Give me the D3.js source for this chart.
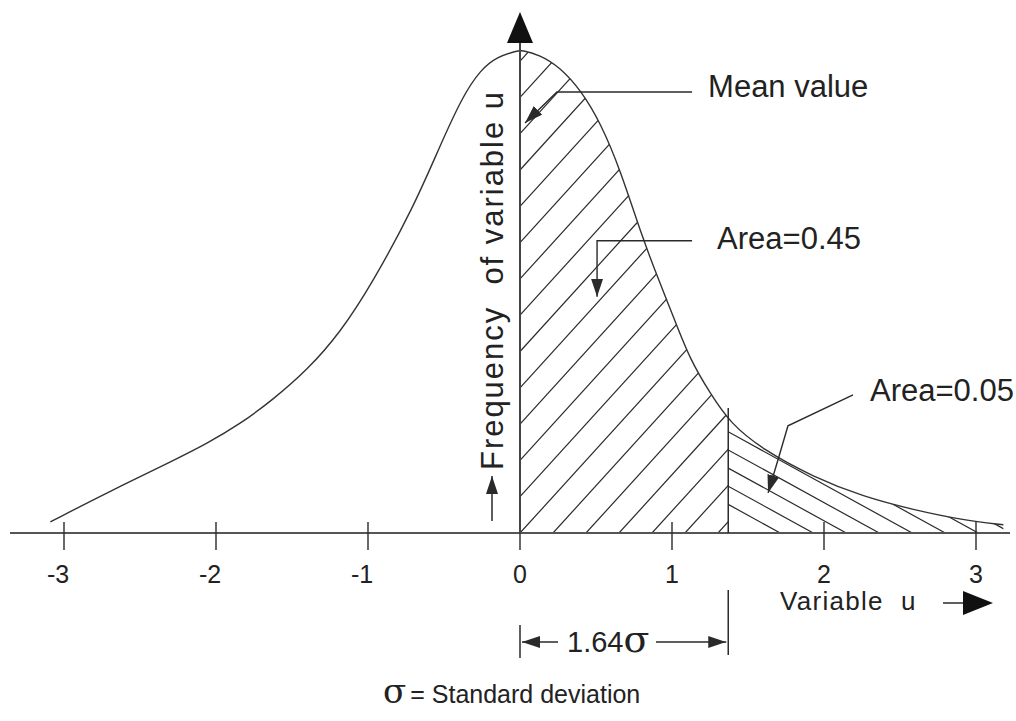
<!DOCTYPE html>
<html>
<head>
<meta charset="utf-8">
<script src="https://cdn.jsdelivr.net/npm/d3@7"></script>
<style>
  body { margin: 0; background: #fff; }
  text { font-family: "Liberation Sans", Arial, sans-serif; fill: #222; }
</style>
</head>
<body>
<div id="chart"></div>
<script>
// curve (u in tick units, frequency relative to the peak)
var uValues    = [-3.09, -2.72, -2.28, -2.06, -1.84, -1.63, -1.40, -1.18, -0.97, -0.70, -0.53, -0.38, -0.26, -0.15, -0.02, 0.01,
                  0.13, 0.26, 0.40, 0.53, 0.66, 0.81, 0.92, 1.01, 1.12, 1.25, 1.38, 1.60, 1.93, 2.26, 2.59, 2.91, 3.18];
var freqValues = [0.023, 0.083, 0.150, 0.185, 0.226, 0.275, 0.337, 0.416, 0.518, 0.675, 0.799, 0.903, 0.959, 0.986, 0.998, 1.0,
                  0.990, 0.965, 0.917, 0.849, 0.752, 0.607, 0.518, 0.447, 0.358, 0.290, 0.228, 0.172, 0.116, 0.075, 0.048, 0.027, 0.017];

var tickValues = [-3, -2, -1, 0, 1, 2, 3];
var tickLabels = ["-3", "-2", "-1", "0", "1", "2", "3"];

// where the 1.64 sigma line is drawn on the u axis
var tailStart = 1.37;

var labelTexts = ["Mean value", "Area=0.45", "Area=0.05"];

var data = uValues.map(function(u, i) { return {u: u, f: freqValues[i]}; });

var width = 1016, height = 721;
var svg = d3.select("#chart").append("svg").attr("width", width).attr("height", height);

var x = d3.scaleLinear().domain([-3, 3]).range([64, 976]);
var y = d3.scaleLinear().domain([0, 1]).range([533, 50]);
var y0 = y(0);

var ink = "#2a2a2a";

// arrow head marker
var defs = svg.append("defs");
defs.append("marker").attr("id", "head")
  .attr("viewBox", "0 0 18 12").attr("refX", 18).attr("refY", 6)
  .attr("markerWidth", 18).attr("markerHeight", 12)
  .attr("markerUnits", "userSpaceOnUse").attr("orient", "auto")
  .append("path").attr("d", "M0,0 L18,6 L0,12 Z").attr("fill", ink);

var lineGen = d3.line().x(function(d) { return x(d.u); }).y(function(d) { return y(d.f); }).curve(d3.curveBasis);
var areaGen = d3.area().x(function(d) { return x(d.u); }).y0(y0).y1(function(d) { return y(d.f); }).curve(d3.curveBasis);

defs.append("clipPath").attr("id", "under").append("path").attr("d", areaGen(data));
defs.append("clipPath").attr("id", "mid").append("rect")
  .attr("x", x(0)).attr("y", 0).attr("width", x(tailStart) - x(0)).attr("height", y0);
defs.append("clipPath").attr("id", "tail").append("rect")
  .attr("x", x(tailStart)).attr("y", 0).attr("width", width - x(tailStart)).attr("height", y0);

// hatching, 0 .. 1.64 sigma
var hatchMid = svg.append("g").attr("clip-path", "url(#under)").append("g").attr("clip-path", "url(#mid)");
d3.range(-16, 8).forEach(function(k) {
  var xs = x(0) + k * 33;
  hatchMid.append("line").attr("x1", xs).attr("y1", y0).attr("x2", xs + 600 / 1.1).attr("y2", y0 - 600)
    .attr("stroke", ink).attr("stroke-width", 1.2);
});

// hatching, tail beyond 1.64 sigma
var hatchTail = svg.append("g").attr("clip-path", "url(#under)").append("g").attr("clip-path", "url(#tail)");
d3.range(0, 10).forEach(function(k) {
  var xe = x(tailStart) + 52 + k * 33;
  hatchTail.append("line").attr("x1", xe).attr("y1", y0).attr("x2", xe - 400).attr("y2", y0 - 220)
    .attr("stroke", ink).attr("stroke-width", 1.2);
});

// the curve
svg.append("path").datum(data).attr("d", lineGen)
  .attr("fill", "none").attr("stroke", "#333").attr("stroke-width", 1.4);

// x axis
svg.append("line").attr("x1", 10).attr("x2", 1010).attr("y1", y0).attr("y2", y0)
  .attr("stroke", "#555").attr("stroke-width", 2.2);

svg.selectAll(".tick").data(tickValues).enter().append("line")
  .attr("x1", function(d) { return x(d); }).attr("x2", function(d) { return x(d); })
  .attr("y1", y0 - 11).attr("y2", y0 + 17)
  .attr("stroke", ink).attr("stroke-width", 1.4);

svg.selectAll(".tlab").data(tickValues).enter().append("text")
  .attr("x", function(d) { return x(d) + (d < 0 ? -6 : 0); })
  .attr("y", 583)
  .attr("text-anchor", "middle")
  .style("font-size", "25px")
  .text(function(d, i) { return tickLabels[i]; });

// y axis (mean line) with arrow
svg.append("line").attr("x1", x(0)).attr("x2", x(0)).attr("y1", y0).attr("y2", 40)
  .attr("stroke", "#444").attr("stroke-width", 2);
svg.append("path")
  .attr("d", "M" + x(0) + ",12 L" + (x(0) + 13) + ",43 L" + (x(0) - 13) + ",43 Z")
  .attr("fill", "#111");

// boundary at 1.64 sigma
svg.append("line").attr("x1", x(tailStart)).attr("x2", x(tailStart))
  .attr("y1", y0).attr("y2", 408)
  .attr("stroke", ink).attr("stroke-width", 1.5);

// y label
svg.append("text")
  .attr("transform", "translate(503,470) rotate(-90)")
  .style("font-size", "31px")
  .attr("xml:space", "preserve")
  .attr("textLength", 378).attr("lengthAdjust", "spacing")
  .text("Frequency  of variable u");
svg.append("line").attr("x1", 492).attr("x2", 492).attr("y1", 521).attr("y2", 476)
  .attr("stroke", ink).attr("stroke-width", 1.5).attr("marker-end", "url(#head)");

// annotations
function leader(pts) {
  return svg.append("path")
    .attr("d", d3.line()(pts.map(function(p) { return [x(p[0]), y(p[1])]; })))
    .attr("fill", "none").attr("stroke", ink).attr("stroke-width", 1.4)
    .attr("marker-end", "url(#head)");
}
leader([[1.132, 0.913], [0.243, 0.913], [0.033, 0.849]]);
svg.append("text").attr("x", x(1.132) + 16).attr("y", y(0.913) + 5)
  .style("font-size", "31px").text(labelTexts[0]);

leader([[1.132, 0.605], [0.507, 0.605], [0.507, 0.489]]);
svg.append("text").attr("x", x(1.132) + 25).attr("y", y(0.605) + 8)
  .style("font-size", "31px").text(labelTexts[1]);

leader([[2.191, 0.286], [1.763, 0.222], [1.697, 0.151], [1.632, 0.083]]);
svg.append("text").attr("x", x(2.191) + 17).attr("y", y(0.286) + 6)
  .style("font-size", "31px").text(labelTexts[2]);

// x label
svg.append("text").attr("x", 780).attr("y", 610)
  .style("font-size", "26px").style("letter-spacing", "1.3px")
  .attr("xml:space", "preserve")
  .text("Variable  u");
svg.append("line").attr("x1", 943).attr("x2", 965).attr("y1", 603).attr("y2", 603)
  .attr("stroke", ink).attr("stroke-width", 1.5);
svg.append("path").attr("d", "M963,591 L993,603 L963,615 Z").attr("fill", "#111");

// 1.64 sigma dimension
var dimY = 642;
svg.append("line").attr("x1", x(0)).attr("x2", x(0)).attr("y1", 625).attr("y2", 658)
  .attr("stroke", ink).attr("stroke-width", 1.5);
svg.append("line").attr("x1", x(tailStart)).attr("x2", x(tailStart)).attr("y1", 590).attr("y2", 655)
  .attr("stroke", ink).attr("stroke-width", 1.5);
svg.append("line").attr("x1", x(0) + 38).attr("x2", x(0) + 2).attr("y1", dimY).attr("y2", dimY)
  .attr("stroke", ink).attr("stroke-width", 1.4).attr("marker-end", "url(#head)");
svg.append("line").attr("x1", x(0) + 136).attr("x2", x(tailStart) - 2).attr("y1", dimY).attr("y2", dimY)
  .attr("stroke", ink).attr("stroke-width", 1.4).attr("marker-end", "url(#head)");
var dimText = svg.append("text").attr("x", x(0) + 47).attr("y", 652).style("font-size", "29px");
dimText.append("tspan").text("1.64");
dimText.append("tspan").style("font-family", "DejaVu Serif").style("font-size", "38px").text("σ");

// legend
var legend = svg.append("text").attr("x", 383).attr("y", 703).style("font-size", "25px");
legend.append("tspan").style("font-family", "DejaVu Serif").style("font-size", "34px").text("σ");
legend.append("tspan").attr("dx", 4).text("= Standard deviation");
</script>
</body>
</html>
